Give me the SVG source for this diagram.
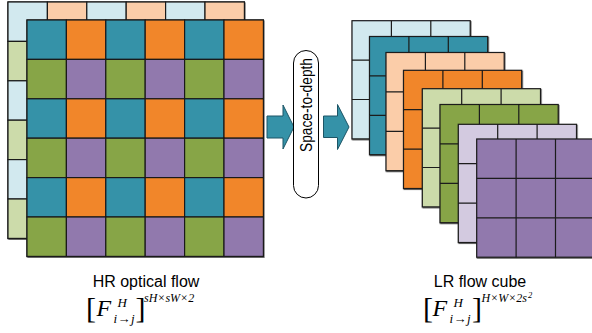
<svg xmlns="http://www.w3.org/2000/svg" xmlns:xlink="http://www.w3.org/1999/xlink" width="592" height="333" viewBox="0 0 592 333">
<style>
.lb{fill:#D2E9EF}.pe{fill:#FBCDA9}.lg{fill:#CCDBAA}.lp{fill:#D3CAE0}
.tl{fill:#3592A8}.or{fill:#F1862A}.gr{fill:#87A547}.pu{fill:#9179AD}
.cell{stroke:#1a1a1a;stroke-width:1.2}
.sh{filter:url(#shadow)}
.arrow{fill:#3592A8;stroke:#1d5566;stroke-width:1}
.lbl{font-family:"Liberation Sans",Arial,sans-serif;font-size:16px;fill:#000}
.m{font-family:"Liberation Serif","Times New Roman",serif;font-style:italic;fill:#000}
.br{font-family:"Liberation Serif","Times New Roman",serif;font-size:30px;fill:#000}
</style>
<defs>
<filter id="shadow" x="-10%" y="-10%" width="120%" height="120%">
<feDropShadow dx="0.6" dy="0.9" stdDeviation="0.7" flood-color="#333" flood-opacity="0.8"/>
</filter>
<rect id="c" width="39.4" height="39.4"/>
<g id="g3">
<rect width="118.2" height="118.2"/>
<path d="M39.4 0V118.2M78.8 0V118.2M0 39.4H118.2M0 78.8H118.2" fill="none"/>
</g>
</defs>

<g id="hr-back" class="cell">
<rect class="sh" x="8" y="2" width="236.4" height="236.4" fill="#D3CAE0"/>
<use href="#c" x="8" y="2" class="lb"/>
<use href="#c" x="47.4" y="2" class="pe"/>
<use href="#c" x="86.8" y="2" class="lb"/>
<use href="#c" x="126.2" y="2" class="pe"/>
<use href="#c" x="165.6" y="2" class="lb"/>
<use href="#c" x="205" y="2" class="pe"/>
<use href="#c" x="8" y="41.4" class="lg"/>
<use href="#c" x="8" y="80.8" class="lb"/>
<use href="#c" x="8" y="120.2" class="lg"/>
<use href="#c" x="8" y="159.6" class="lb"/>
<use href="#c" x="8" y="199" class="lg"/>
</g>

<g id="hr-front" class="cell">
<rect class="sh" x="27" y="20" width="236.4" height="236.4" fill="#9179AD"/>
<use href="#c" x="27" y="20" class="tl"/><use href="#c" x="66.4" y="20" class="or"/><use href="#c" x="105.8" y="20" class="tl"/><use href="#c" x="145.2" y="20" class="or"/><use href="#c" x="184.6" y="20" class="tl"/><use href="#c" x="224" y="20" class="or"/>
<use href="#c" x="27" y="59.4" class="gr"/><use href="#c" x="66.4" y="59.4" class="pu"/><use href="#c" x="105.8" y="59.4" class="gr"/><use href="#c" x="145.2" y="59.4" class="pu"/><use href="#c" x="184.6" y="59.4" class="gr"/><use href="#c" x="224" y="59.4" class="pu"/>
<use href="#c" x="27" y="98.8" class="tl"/><use href="#c" x="66.4" y="98.8" class="or"/><use href="#c" x="105.8" y="98.8" class="tl"/><use href="#c" x="145.2" y="98.8" class="or"/><use href="#c" x="184.6" y="98.8" class="tl"/><use href="#c" x="224" y="98.8" class="or"/>
<use href="#c" x="27" y="138.2" class="gr"/><use href="#c" x="66.4" y="138.2" class="pu"/><use href="#c" x="105.8" y="138.2" class="gr"/><use href="#c" x="145.2" y="138.2" class="pu"/><use href="#c" x="184.6" y="138.2" class="gr"/><use href="#c" x="224" y="138.2" class="pu"/>
<use href="#c" x="27" y="177.6" class="tl"/><use href="#c" x="66.4" y="177.6" class="or"/><use href="#c" x="105.8" y="177.6" class="tl"/><use href="#c" x="145.2" y="177.6" class="or"/><use href="#c" x="184.6" y="177.6" class="tl"/><use href="#c" x="224" y="177.6" class="or"/>
<use href="#c" x="27" y="217" class="gr"/><use href="#c" x="66.4" y="217" class="pu"/><use href="#c" x="105.8" y="217" class="gr"/><use href="#c" x="145.2" y="217" class="pu"/><use href="#c" x="184.6" y="217" class="gr"/><use href="#c" x="224" y="217" class="pu"/>
</g>

<g id="connectors">
<polygon class="arrow" points="267,116 283,116 283,105 294,127 283,149 283,138 267,138"/>
<polygon class="arrow" points="323.5,116 337.5,116 337.5,104.5 349,127 337.5,149.5 337.5,137.5 323.5,137.5"/>
</g>

<g id="space-to-depth">
<rect x="293.5" y="50.5" width="25" height="147.5" rx="12.5" ry="12.5" fill="#fff" stroke="#000" stroke-width="1"/>
<text transform="translate(311.5,105) rotate(-90)" text-anchor="middle" font-family="Liberation Sans, Arial, sans-serif" font-size="16" textLength="94" lengthAdjust="spacingAndGlyphs" fill="#000">Space-to-depth</text>
</g>

<g id="lr-cube" class="cell">
<use href="#g3" x="352" y="20.7" class="lb sh"/>
<use href="#g3" x="369.5" y="36.5" class="tl sh"/>
<use href="#g3" x="386" y="52.5" class="pe sh"/>
<use href="#g3" x="403.5" y="70.3" class="or sh"/>
<use href="#g3" x="422.3" y="88.7" class="lg sh"/>
<use href="#g3" x="440" y="104.5" class="gr sh"/>
<use href="#g3" x="458.3" y="124.3" class="lp sh"/>
<use href="#g3" x="476.7" y="139" class="pu sh"/>
</g>

<g id="hr-label">
<text class="lbl" x="146" y="287" text-anchor="middle">HR optical flow</text>
<text class="br" x="86" y="318">[</text>
<text class="m" x="96.5" y="316" font-size="24">F</text>
<text class="m" x="117.5" y="306.5" font-size="13">H</text>
<text class="m" x="113.5" y="323" font-size="13" textLength="21" lengthAdjust="spacing">i→j</text>
<text class="br" x="135.5" y="318">]</text>
<text class="m" x="144" y="302" font-size="12">sH×sW×2</text>
</g>

<g id="lr-label">
<text class="lbl" x="480" y="287" text-anchor="middle">LR flow cube</text>
<text class="br" x="423" y="318">[</text>
<text class="m" x="432.5" y="316" font-size="24">F</text>
<text class="m" x="453.5" y="306.5" font-size="13">H</text>
<text class="m" x="449.5" y="323" font-size="13" textLength="21" lengthAdjust="spacing">i→j</text>
<text class="br" x="472" y="318">]</text>
<text class="m" x="481.5" y="302" font-size="12">H×W×2s</text>
<text class="m" x="528" y="297.5" font-size="8.5">2</text>
</g>
</svg>
